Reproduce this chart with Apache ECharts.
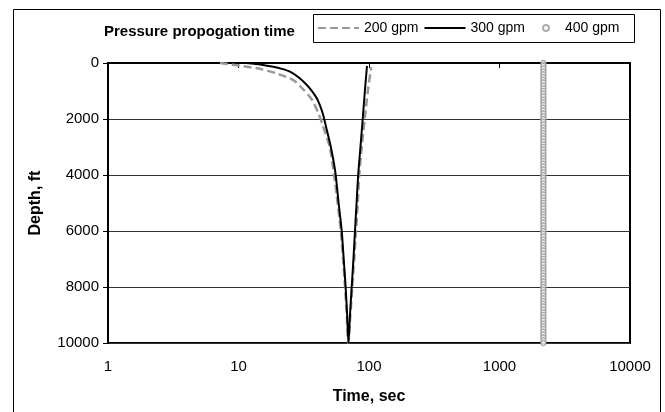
<!DOCTYPE html>
<html>
<head>
<meta charset="utf-8">
<script src="https://cdn.jsdelivr.net/npm/echarts@6/dist/echarts.min.js"></script>
<style>
  html, body { margin: 0; padding: 0; background: #fff; }
  #chart { width: 665px; height: 412px; }
</style>
</head>
<body>
<div id="chart"></div>
<script>
// ---- Data (time in sec, depth in ft) ----
const seriesNames = ['200 gpm', '300 gpm', '400 gpm'];
const xTickLabels = ['1', '10', '100', '1000', '10000'];
const yTickLabels = ['0', '2000', '4000', '6000', '8000', '10000'];

const time200  = [7.2, 11, 15, 19.5, 26.5, 31.5, 36.4, 41, 44, 50, 54, 57.5, 60.8, 63.3, 65.5, 67.5, 69.4, 72, 74.5, 77, 79.5, 82, 84.2, 88, 92.7, 98, 104];
const depth200 = [0, 120, 220, 370, 620, 950, 1300, 1800, 2200, 3000, 4000, 5000, 6000, 7000, 8000, 9000, 10000, 9000, 8000, 7000, 6000, 5000, 4000, 3000, 2000, 1000, 150];

const time300  = [11.5, 15, 18.5, 21.5, 24.8, 29, 33.4, 36.8, 39.8, 42.3, 44.5, 47, 51, 55.2, 58.5, 61.8, 64, 66.2, 68, 69.6, 71.5, 73.7, 76, 78.1, 80.3, 82.6, 86, 89.5, 93, 96.5];
const depth300 = [0, 60, 135, 210, 310, 520, 785, 1020, 1260, 1540, 1850, 2300, 3000, 3900, 5000, 6000, 7000, 8000, 9000, 10000, 9000, 8000, 7000, 6000, 5000, 4000, 3000, 2000, 1000, 100];

const depth400 = [0, 100, 200, 300, 400, 500, 600, 700, 800, 900, 1000, 1100, 1200, 1300, 1400, 1500, 1600, 1700, 1800, 1900, 2000, 2100, 2200, 2300, 2400, 2500, 2600, 2700, 2800, 2900, 3000, 3100, 3200, 3300, 3400, 3500, 3600, 3700, 3800, 3900, 4000, 4100, 4200, 4300, 4400, 4500, 4600, 4700, 4800, 4900, 5000, 5100, 5200, 5300, 5400, 5500, 5600, 5700, 5800, 5900, 6000, 6100, 6200, 6300, 6400, 6500, 6600, 6700, 6800, 6900, 7000, 7100, 7200, 7300, 7400, 7500, 7600, 7700, 7800, 7900, 8000, 8100, 8200, 8300, 8400, 8500, 8600, 8700, 8800, 8900, 9000, 9100, 9200, 9300, 9400, 9500, 9600, 9700, 9800, 9900, 10000];
const time400  = [2170, 2170, 2170, 2170, 2170, 2170, 2170, 2170, 2170, 2170, 2170, 2170, 2170, 2170, 2170, 2170, 2170, 2170, 2170, 2170, 2170, 2170, 2170, 2170, 2170, 2170, 2170, 2170, 2170, 2170, 2170, 2170, 2170, 2170, 2170, 2170, 2170, 2170, 2170, 2170, 2170, 2170, 2170, 2170, 2170, 2170, 2170, 2170, 2170, 2170, 2170, 2170, 2170, 2170, 2170, 2170, 2170, 2170, 2170, 2170, 2170, 2170, 2170, 2170, 2170, 2170, 2170, 2170, 2170, 2170, 2170, 2170, 2170, 2170, 2170, 2170, 2170, 2170, 2170, 2170, 2170, 2170, 2170, 2170, 2170, 2170, 2170, 2170, 2170, 2170, 2170, 2170, 2170, 2170, 2170, 2170, 2170, 2170, 2170, 2170, 2170];

function pairs(xs, ys) { return xs.map((x, i) => [x, ys[i]]); }

const FONT = "'Liberation Sans', Arial, sans-serif";
const chart = echarts.init(document.getElementById('chart'), null, { renderer: 'canvas' });

const legendText = { fontFamily: FONT, fontSize: 14, color: '#000' };

chart.setOption({
  backgroundColor: '#fff',
  animation: false,
  textStyle: { fontFamily: FONT, color: '#000' },
  title: {
    text: 'Pressure propogation time',
    left: 99, top: 19,
    textStyle: { fontFamily: FONT, fontWeight: 'bold', fontSize: 15, color: '#000' }
  },
  legend: [
    {
      left: 313, top: 15,
      padding: [6, 4, 6, 4],
      itemWidth: 41, itemHeight: 6, itemGap: 5,
      textStyle: legendText,
      data: [
        { name: seriesNames[0], itemStyle: { opacity: 0 } },
        { name: seriesNames[1], itemStyle: { opacity: 0 } }
      ]
    },
    {
      left: 538, top: 15,
      padding: [6, 4, 6, 4],
      itemWidth: 28, itemHeight: 6,
      textStyle: legendText,
      data: [{ name: seriesNames[2], icon: 'circle' }]
    }
  ],
  graphic: [
    {
      type: 'rect', left: 11, top: 7, silent: true,
      shape: { width: 647, height: 430 },
      style: { fill: 'none', stroke: '#000', lineWidth: 1 }
    },
    {
      type: 'rect', left: 313, top: 14, silent: true, z: -1,
      shape: { width: 321, height: 28 },
      style: { fill: '#fff', stroke: '#000', lineWidth: 1 }
    }
  ],
  grid: {
    left: 108, right: 35, top: 63, bottom: 69,
    show: true, borderColor: '#000', borderWidth: 2, backgroundColor: 'transparent'
  },
  xAxis: {
    type: 'log', logBase: 10, min: 1, max: 10000,
    name: 'Time, sec', nameLocation: 'middle', nameGap: 46,
    nameTextStyle: { fontFamily: FONT, fontWeight: 'bold', fontSize: 16, color: '#000' },
    axisLine: { show: true, lineStyle: { color: '#000', width: 2 } },
    axisTick: { show: true, length: 5, lineStyle: { color: '#000' } },
    minorTick: { show: false },
    splitLine: { show: false },
    axisLabel: {
      fontFamily: FONT, fontSize: 15, color: '#000', margin: 16,
      formatter: v => xTickLabels[Math.round(Math.log10(v))]
    }
  },
  yAxis: {
    type: 'value', inverse: true, min: 0, max: 10000, interval: 2000,
    name: 'Depth, ft', nameLocation: 'middle', nameGap: 64, nameRotate: 90,
    nameTextStyle: { fontFamily: FONT, fontWeight: 'bold', fontSize: 16, color: '#000' },
    axisLine: { show: true, lineStyle: { color: '#000', width: 2 } },
    axisTick: { show: true, length: 5, lineStyle: { color: '#000' } },
    splitLine: { show: true, lineStyle: { color: '#333', width: 1 } },
    axisLabel: {
      fontFamily: FONT, fontSize: 15, color: '#000', margin: 9,
      formatter: v => yTickLabels[Math.round(v / 2000)]
    }
  },
  series: [
    {
      name: seriesNames[0], type: 'line', data: pairs(time200, depth200),
      showSymbol: false, symbol: 'none', smooth: 0.25, z: 3,
      lineStyle: { color: '#999', width: 2.5, type: [8, 4] },
      itemStyle: { color: '#999' }
    },
    {
      name: seriesNames[1], type: 'line', data: pairs(time300, depth300),
      showSymbol: false, symbol: 'none', smooth: 0.25, z: 4,
      lineStyle: { color: '#000', width: 2 },
      itemStyle: { color: '#000' }
    },
    {
      name: seriesNames[2], type: 'scatter', data: pairs(time400, depth400),
      symbol: 'circle', symbolSize: 5, clip: false, z: 5,
      itemStyle: { color: '#fff', borderColor: '#999', borderWidth: 1.5 }
    }
  ]
});
</script>
</body>
</html>
